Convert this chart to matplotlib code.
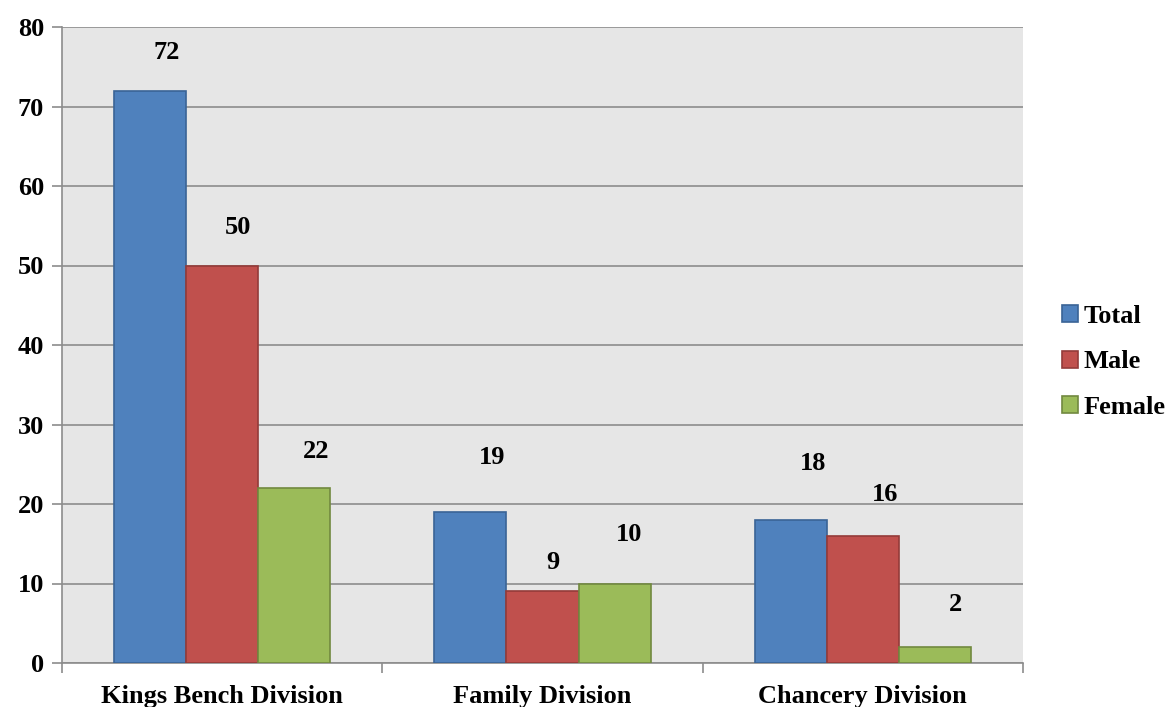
import numpy as np
import matplotlib
matplotlib.use("Agg")
import matplotlib.pyplot as plt

# Chart data
divisions = ["Kings Bench Division", "Family Division", "Chancery Division"]
total = [72, 19, 18]
male = [50, 9, 16]
female = [22, 10, 2]

series_names = ["Total", "Male", "Female"]
colors = ["#4f81bd", "#c0504d", "#9bbb59"]
edges = ["#3a6496", "#943b39", "#71893f"]

# label offsets above bar tops, in pixels (labels were placed by hand)
label_offsets = [[38, 54, 56], [38, 29, 41], [37, 49, 43]]
label_dx = [[17, 22, 22], [16, 10, 22], [22, 14, 21]]

plt.rcParams["font.family"] = ["Liberation Serif", "DejaVu Serif"]
plt.rcParams["font.weight"] = "bold"
FS = 19

fig = plt.figure(figsize=(11.7, 7.07), dpi=100)
ax = fig.add_axes([62 / 1170, 44 / 707, 961 / 1170, 636 / 707])
ax.set_facecolor("#e6e6e6")

x = np.arange(len(divisions))
width = 0.225
for i, (name, vals) in enumerate(zip(series_names, [total, male, female])):
    pos = x + (i - 1) * width
    ax.bar(pos, vals, width, color=colors[i], edgecolor=edges[i],
           linewidth=1.2, label=name, zorder=3)
    for j, v in enumerate(vals):
        ax.annotate(str(v), (pos[j], v),
                    xytext=(label_dx[i][j] * 0.72, label_offsets[i][j] * 0.72),
                    textcoords="offset points", ha="center", va="center",
                    fontsize=FS, fontweight="bold")

ax.set_xlim(-0.5, 2.5)
ax.set_ylim(0, 80)
ax.set_yticks(range(0, 81, 10))
ax.yaxis.grid(True, color="#8c8c8c", linewidth=1.2, zorder=0)
ax.set_axisbelow(True)

ax.set_xticks(x)
ax.set_xticklabels(divisions)
ax.set_xticks([-0.5, 0.5, 1.5, 2.5], minor=True)
ax.tick_params(axis="x", which="major", length=0, pad=16, labelsize=FS)
ax.tick_params(axis="x", which="minor", length=7, color="#8c8c8c", width=1.2)
ax.tick_params(axis="y", length=7, color="#8c8c8c", width=1.2, labelsize=FS, pad=6)

for side in ["top", "right"]:
    ax.spines[side].set_visible(False)
for side in ["left", "bottom"]:
    ax.spines[side].set_color("#8c8c8c")
    ax.spines[side].set_linewidth(1.2)

handles, labels = ax.get_legend_handles_labels()
fig.legend(handles, labels, loc="center left",
           bbox_to_anchor=(1062 / 1170, (707 - 362) / 707), frameon=False,
           prop={"size": FS, "weight": "bold"}, handlelength=0.6,
           handleheight=0.6, handletextpad=0.2, labelspacing=0.85,
           borderpad=0, borderaxespad=0)

fig.savefig("out.png", dpi=100)
